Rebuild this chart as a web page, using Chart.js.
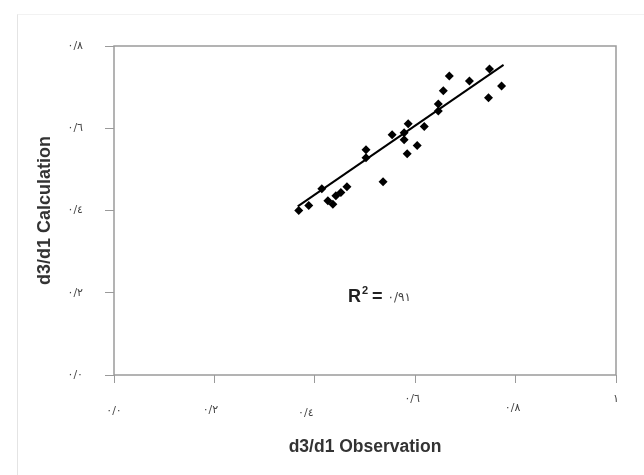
<!DOCTYPE html>
<html>
<head>
<meta charset="utf-8">
<script src="https://cdn.jsdelivr.net/npm/chart.js@4.4.1/dist/chart.umd.min.js"></script>
<style>
  html, body { margin: 0; padding: 0; background: #fff; }
  #wrap { position: relative; width: 644px; height: 475px; }
  #frame { position: absolute; left: 17px; top: 14px; width: 640px; height: 470px;
           border-left: 1px solid #e4e4e4; border-top: 1px solid #f2f2f2; }
</style>
</head>
<body>
<div id="wrap">
  <div id="frame"></div>
  <canvas id="chart" width="644" height="475"></canvas>
</div>
<script>
// observed vs calculated d3/d1
let obsX = [0.368, 0.388, 0.414, 0.426, 0.436, 0.442, 0.452, 0.464, 0.502, 0.502, 0.536, 0.554, 0.578,
            0.578, 0.586, 0.604, 0.584, 0.618, 0.646, 0.646, 0.656, 0.668, 0.708, 0.748, 0.772, 0.746];
let calcY = [0.400, 0.412, 0.453, 0.424, 0.415, 0.436, 0.444, 0.458, 0.548, 0.528, 0.470, 0.584, 0.589,
             0.572, 0.611, 0.558, 0.538, 0.604, 0.659, 0.642, 0.691, 0.727, 0.715, 0.744, 0.703, 0.674];

// fitted line ends
let trendX = [0.366, 0.776];
let trendY = [0.410, 0.754];

let xTickLabels = ['٠/٠', '٠/٢', '٠/٤', '٠/٦', '٠/٨', '١'];
let yTickLabels = ['٠/٠', '٠/٢', '٠/٤', '٠/٦', '٠/٨'];
let rSquared = '٠/٩١';

let points = obsX.map((x, i) => ({x: x, y: calcY[i]}));
let trend = trendX.map((x, i) => ({x: x, y: trendY[i]}));

// excel left the x labels a bit scattered
let xLabelShift = [[0, 36], [-4, 35], [-9, 38], [-3, 24], [-3, 33], [0, 24]];

let boxAndLabels = {
  id: 'boxAndLabels',
  afterDraw(chart) {
    let ctx = chart.ctx, a = chart.chartArea;
    let xs = chart.scales.x, ys = chart.scales.y;
    ctx.save();
    ctx.strokeStyle = '#9a9a9a';
    ctx.lineWidth = 1.5;
    ctx.strokeRect(a.left, a.top, a.right - a.left, a.bottom - a.top);

    ctx.fillStyle = '#444';
    ctx.font = '11px "DejaVu Sans"';
    ctx.textAlign = 'center';
    ctx.textBaseline = 'middle';
    xTickLabels.forEach((t, i) => {
      let px = xs.getPixelForValue(i * 0.2);
      ctx.fillText(t, px + xLabelShift[i][0], a.bottom + xLabelShift[i][1]);
    });

    // R squared note
    let x = xs.getPixelForValue(0.466), y = ys.getPixelForValue(0.177);
    ctx.textAlign = 'left';
    ctx.textBaseline = 'alphabetic';
    ctx.fillStyle = '#222';
    ctx.font = 'bold 18px "Liberation Sans", Arial';
    ctx.fillText('R', x, y);
    x += ctx.measureText('R').width + 1;
    ctx.font = 'bold 11px "Liberation Sans", Arial';
    ctx.fillText('2', x, y - 8);
    x += ctx.measureText('2').width + 4;
    ctx.font = 'bold 18px "Liberation Sans", Arial';
    ctx.fillText('=', x, y);
    x += ctx.measureText('=').width + 5;
    ctx.fillStyle = '#444';
    ctx.font = '12px "DejaVu Sans"';
    ctx.fillText(rSquared, x, y - 1);
    ctx.restore();
  }
};

new Chart(document.getElementById('chart'), {
  type: 'scatter',
  data: {
    datasets: [
      {
        label: 'd3/d1',
        data: points,
        pointStyle: 'rectRot',
        pointRadius: 4.5,
        backgroundColor: '#000',
        borderColor: '#000',
        borderWidth: 0
      },
      {
        type: 'line',
        label: 'trend',
        data: trend,
        borderColor: '#000',
        borderWidth: 2,
        pointRadius: 0,
        fill: false
      }
    ]
  },
  options: {
    responsive: false,
    animation: false,
    layout: { padding: { top: 46, right: 28, bottom: 0, left: 0 } },
    plugins: { legend: { display: false }, tooltip: { enabled: false } },
    scales: {
      x: {
        type: 'linear',
        min: 0, max: 1,
        ticks: { stepSize: 0.2, display: false },
        grid: { drawOnChartArea: false, drawTicks: true, tickLength: 8, color: '#9a9a9a' },
        border: { display: false },
        title: {
          display: true,
          text: 'd3/d1 Observation',
          color: '#333',
          font: { family: '"Liberation Sans", Arial', size: 17.5, weight: 'bold' },
          padding: { top: 54, bottom: 17 }
        }
      },
      y: {
        type: 'linear',
        min: 0, max: 0.8,
        afterFit: function (scale) { scale.width = 114; },
        ticks: {
          stepSize: 0.2,
          padding: 22,
          color: '#444',
          font: { family: '"DejaVu Sans"', size: 11 },
          callback: function (v) { return yTickLabels[Math.round(v / 0.2)]; }
        },
        grid: { drawOnChartArea: false, drawTicks: true, tickLength: 9, color: '#9a9a9a' },
        border: { display: false },
        title: {
          display: true,
          text: 'd3/d1 Calculation',
          color: '#333',
          font: { family: '"Liberation Sans", Arial', size: 18, weight: 'bold' },
          padding: { top: 34, bottom: 0 }
        }
      }
    }
  },
  plugins: [boxAndLabels]
});
</script>
</body>
</html>
